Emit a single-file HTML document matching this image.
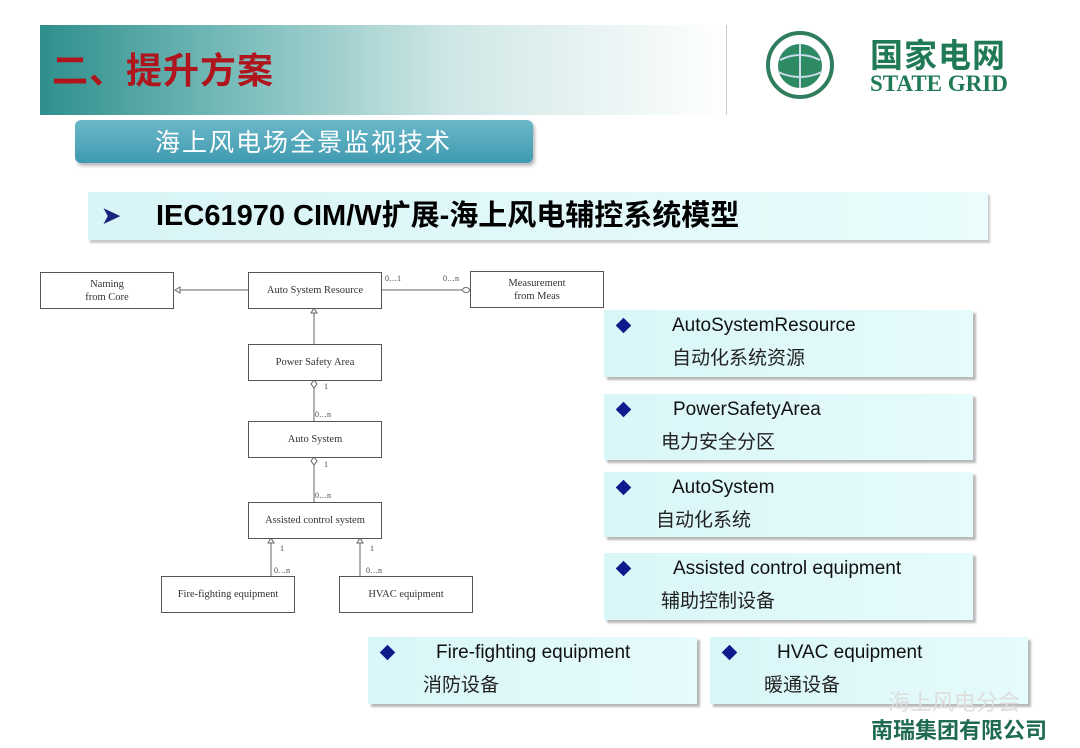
<!DOCTYPE html>
<html><head><meta charset="utf-8"><style>
body{margin:0;width:1080px;height:748px;background:#fff;position:relative;overflow:hidden;font-family:"Liberation Sans","Noto Sans CJK SC",sans-serif}
.a{position:absolute}
.band{left:40px;top:25px;width:686px;height:90px;background:linear-gradient(90deg,#2f8f8c 0%,#6fb7b5 25%,#cfe7e6 60%,#fff 100%)}
.title{left:52px;top:42px;font-size:36px;font-weight:bold;color:#b0141c;font-family:"Noto Sans CJK SC",sans-serif;letter-spacing:1px}
.sub{left:75px;top:120px;width:458px;height:43px;border-radius:6px;background:linear-gradient(180deg,#6bb8c9,#3f9ab0);box-shadow:2px 3px 3px #bbb;color:#fff;font-size:25px;font-family:"Noto Sans CJK SC",sans-serif;line-height:43px;text-indent:80px;letter-spacing:2px}
.head{left:88px;top:192px;width:900px;height:48px;background:linear-gradient(90deg,#d8f4f6,#eafcfc);box-shadow:2px 3px 2px #c8c8c8;font-size:29px;font-weight:bold;line-height:48px;color:#000}
.box{position:absolute;border:1px solid #555;background:#fff;font-family:"Liberation Serif",serif;font-size:10.5px;color:#333;display:flex;align-items:center;justify-content:center;text-align:center;line-height:13px}
.p{position:absolute;background:linear-gradient(90deg,#d9f6f8,#e6fbfb);box-shadow:3px 3px 2px #b8b8b8;font-size:19px;color:#111}
.p .d{position:absolute;left:14px;top:10px;width:11px;height:11px;background:#101a8c;transform:rotate(45deg)}
.p .e{position:absolute;top:5px}
.p .c{position:absolute;top:33px;font-family:"Noto Sans CJK SC",sans-serif;font-size:19px;color:#222}
.sm{position:absolute;font-family:"Liberation Serif",serif;font-size:8px;color:#444}
</style></head><body>
<div class="a band"></div>
<div class="a" style="left:726px;top:25px;width:1px;height:90px;background:#ccc"></div>
<div class="a title">二、提升方案</div>
<svg class="a" style="left:762px;top:30px" width="80" height="70"><circle cx="38" cy="35" r="32" fill="#fff" stroke="#2e7e5e" stroke-width="4"/><circle cx="38" cy="36" r="22" fill="#2e8a62"/><path d="M18 30 Q38 20 58 30 M16 42 Q38 52 60 42 M38 14 V58" stroke="#cde" stroke-width="2" fill="none"/></svg>
<div class="a" style="left:870px;top:34px;font-size:33px;font-weight:bold;color:#1f7a55;font-family:'Noto Sans CJK SC',sans-serif;line-height:38px;letter-spacing:1px">国家电网</div>
<div class="a" style="left:870px;top:71px;font-size:23px;font-weight:bold;color:#1f7a55;font-family:'Liberation Serif',serif">STATE GRID</div>
<div class="a sub">海上风电场全景监视技术</div>
<div class="a head"><span style="position:absolute;left:14px;color:#1a237e;font-size:22px">➤</span><span style="position:absolute;left:68px;font-family:'Liberation Sans','Noto Sans CJK SC',sans-serif">IEC61970 CIM/W扩展-海上风电辅控系统模型</span></div>

<svg class="a" style="left:0;top:0" width="620" height="660">
<g stroke="#666" stroke-width="1" fill="#fff">
<line x1="175" y1="290" x2="248" y2="290"/><path d="M175 290 l5 -3 v6z"/>
<line x1="380" y1="290" x2="463" y2="290"/><ellipse cx="466" cy="290" rx="3.5" ry="2.5"/>
<line x1="314" y1="308" x2="314" y2="344"/><path d="M314 308 l-3 5 h6z"/>
<line x1="314" y1="380" x2="314" y2="421"/><path d="M314 380 l-3 4 l3 4 l3 -4z"/>
<line x1="314" y1="457" x2="314" y2="502"/><path d="M314 457 l-3 4 l3 4 l3 -4z"/>
<line x1="271" y1="538" x2="271" y2="576"/><path d="M271 538 l-3 5 h6z"/>
<line x1="360" y1="538" x2="360" y2="576"/><path d="M360 538 l-3 5 h6z"/>
</g></svg>
<div class="box" style="left:40px;top:272px;width:132px;height:35px">Naming<br>from Core</div>
<div class="box" style="left:248px;top:272px;width:132px;height:35px">Auto System Resource</div>
<div class="box" style="left:470px;top:271px;width:132px;height:35px">Measurement<br>from Meas</div>
<div class="box" style="left:248px;top:344px;width:132px;height:35px">Power Safety Area</div>
<div class="box" style="left:248px;top:421px;width:132px;height:35px">Auto System</div>
<div class="box" style="left:248px;top:502px;width:132px;height:35px">Assisted control system</div>
<div class="box" style="left:161px;top:576px;width:132px;height:35px">Fire-fighting equipment</div>
<div class="box" style="left:339px;top:576px;width:132px;height:35px">HVAC equipment</div>
<div class="sm" style="left:385px;top:274px">0…1</div>
<div class="sm" style="left:443px;top:274px">0…n</div>
<div class="sm" style="left:324px;top:382px">1</div>
<div class="sm" style="left:315px;top:410px">0…n</div>
<div class="sm" style="left:324px;top:460px">1</div>
<div class="sm" style="left:315px;top:491px">0…n</div>
<div class="sm" style="left:280px;top:544px">1</div>
<div class="sm" style="left:274px;top:566px">0…n</div>
<div class="sm" style="left:370px;top:544px">1</div>
<div class="sm" style="left:366px;top:566px">0…n</div>

<div class="p" style="left:604px;top:310px;width:369px;height:67px"><div class="d"></div><div class="e" style="left:68px">AutoSystemResource</div><div class="c" style="left:68px">自动化系统资源</div></div>
<div class="p" style="left:604px;top:394px;width:369px;height:66px"><div class="d"></div><div class="e" style="left:69px">PowerSafetyArea</div><div class="c" style="left:57px">电力安全分区</div></div>
<div class="p" style="left:604px;top:472px;width:369px;height:65px"><div class="d"></div><div class="e" style="left:68px">AutoSystem</div><div class="c" style="left:52px">自动化系统</div></div>
<div class="p" style="left:604px;top:553px;width:369px;height:67px"><div class="d"></div><div class="e" style="left:69px">Assisted control equipment</div><div class="c" style="left:57px">辅助控制设备</div></div>
<div class="p" style="left:368px;top:637px;width:329px;height:67px"><div class="d"></div><div class="e" style="left:68px">Fire-fighting equipment</div><div class="c" style="left:55px">消防设备</div></div>
<div class="p" style="left:710px;top:637px;width:318px;height:67px"><div class="d"></div><div class="e" style="left:67px">HVAC equipment</div><div class="c" style="left:54px">暖通设备</div></div>
<div class="a" style="left:888px;top:685px;font-size:22px;color:#ddd;font-family:'Noto Sans CJK SC',sans-serif">海上风电分会</div>
<div class="a" style="left:871px;top:714px;font-size:22px;font-weight:bold;color:#1f6b52;font-family:'Noto Sans CJK SC',sans-serif;line-height:30px">南瑞集团有限公司</div>
</body></html>
